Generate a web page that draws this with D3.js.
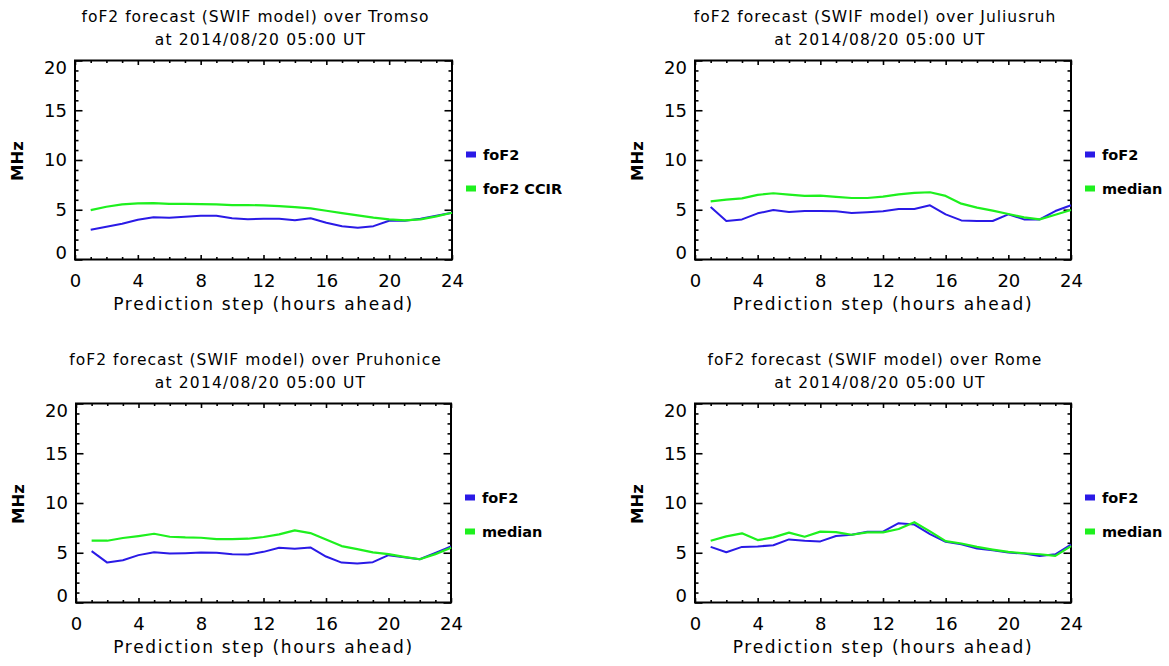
<!DOCTYPE html>
<html>
<head>
<meta charset="utf-8">
<script src="https://cdn.jsdelivr.net/npm/d3@7"></script>
<style>
  body { margin: 0; background: #fff; }
  svg { display: block; font-family: "DejaVu Sans", sans-serif; }
  .frame { fill: none; stroke: #000; stroke-width: 2; }
  .axis path { display: none; }
  .axis line { stroke: #000; stroke-width: 1.6; }
  .axis text { font-size: 18px; fill: #000; font-family: "DejaVu Sans", sans-serif; }
</style>
</head>
<body>
<svg id="chart" width="1169" height="666"></svg>
<script>
// ── Data ──────────────────────────────────────────────────────────────────
const hours = [1, 2, 3, 4, 5, 6, 7, 8, 9, 10, 11, 12, 13, 14, 15, 16, 17, 18, 19, 20, 21, 22, 23, 24];

const stations = ["Tromso", "Juliusruh", "Pruhonice", "Rome"];
const refLabels = ["foF2 CCIR", "median", "median", "median"];

const foF2Tromso = [3.0, 3.3, 3.6, 4.0, 4.25, 4.2, 4.3, 4.4, 4.4, 4.15, 4.05, 4.1, 4.1, 3.95, 4.15, 3.7, 3.35, 3.2, 3.35, 3.9, 3.9, 4.1, 4.4, 4.7];
const ccirTromso = [4.97, 5.3, 5.54, 5.64, 5.67, 5.6, 5.6, 5.57, 5.54, 5.47, 5.47, 5.44, 5.37, 5.27, 5.13, 4.9, 4.66, 4.43, 4.2, 4.03, 3.93, 4.03, 4.33, 4.7];

const foF2Juliusruh = [5.28, 3.87, 4.03, 4.64, 4.97, 4.77, 4.87, 4.87, 4.84, 4.67, 4.74, 4.84, 5.08, 5.08, 5.45, 4.54, 3.93, 3.87, 3.87, 4.54, 4.03, 4.03, 4.87, 5.45];
const medianJuliusruh = [5.85, 6.02, 6.15, 6.49, 6.66, 6.52, 6.39, 6.42, 6.29, 6.18, 6.18, 6.32, 6.55, 6.69, 6.76, 6.39, 5.61, 5.21, 4.91, 4.57, 4.24, 4.03, 4.5, 4.97];

const foF2Pruhonice = [5.16, 4.01, 4.25, 4.76, 5.06, 4.92, 4.96, 5.03, 4.99, 4.86, 4.82, 5.09, 5.5, 5.4, 5.53, 4.62, 4.01, 3.91, 4.05, 4.76, 4.55, 4.35, 4.99, 5.63];
const medianPruhonice = [6.21, 6.21, 6.48, 6.68, 6.91, 6.61, 6.54, 6.51, 6.37, 6.37, 6.41, 6.58, 6.85, 7.25, 6.98, 6.34, 5.67, 5.36, 5.03, 4.86, 4.59, 4.35, 4.86, 5.5];

const foF2Rome = [5.59, 5.05, 5.59, 5.63, 5.76, 6.34, 6.2, 6.14, 6.68, 6.81, 7.12, 7.12, 7.97, 7.83, 6.88, 6.1, 5.86, 5.42, 5.25, 5.02, 4.92, 4.68, 4.85, 5.83];
const medianRome = [6.2, 6.64, 6.95, 6.27, 6.54, 7.02, 6.61, 7.12, 7.08, 6.81, 7.05, 7.05, 7.39, 8.07, 7.15, 6.17, 5.93, 5.59, 5.32, 5.08, 4.95, 4.85, 4.68, 5.66];

const foF2Series = [foF2Tromso, foF2Juliusruh, foF2Pruhonice, foF2Rome];
const refSeries = [ccirTromso, medianJuliusruh, medianPruhonice, medianRome];

const xMajor = [0, 4, 8, 12, 16, 20, 24];
const yMajor = [0, 5, 10, 15, 20];

const BLUE = "#2a1ae6";
const GREEN = "#1ef01e";

// ── Layout ────────────────────────────────────────────────────────────────
const frames = [
  { left: 75, right: 452, top: 60.5, bottom: 259.5 },
  { left: 695, right: 1071, top: 60.5, bottom: 259.5 },
  { left: 76, right: 451, top: 403.5, bottom: 602.5 },
  { left: 695, right: 1071, top: 403.5, bottom: 602.5 },
];

const svg = d3.select("#chart");

// ── Draw one panel ────────────────────────────────────────────────────────
function drawPanel(i) {
  const f = frames[i];
  const g = svg.append("g");

  const x = d3.scaleLinear().domain([0, 24]).range([f.left, f.right]);
  const y = d3.scaleLinear().domain([0, 20]).range([f.bottom, f.top]);
  const xMinor = d3.range(0, 25).filter((v) => v % 4 !== 0);
  const yMinor = d3.range(0, 21).filter((v) => v % 5 !== 0);

  // ticks (inward, on all four sides)
  g.append("g").attr("class", "axis")
    .attr("transform", `translate(0,${f.bottom})`)
    .call(d3.axisBottom(x).tickValues(xMajor).tickSizeInner(-4.5).tickSizeOuter(0).tickPadding(15).tickFormat(d3.format("d")));
  g.append("g").attr("class", "axis")
    .attr("transform", `translate(0,${f.bottom})`)
    .call(d3.axisBottom(x).tickValues(xMinor).tickSizeInner(-2.5).tickSizeOuter(0).tickFormat(""));
  g.append("g").attr("class", "axis")
    .attr("transform", `translate(0,${f.top})`)
    .call(d3.axisTop(x).tickValues(xMajor).tickSizeInner(-4.5).tickSizeOuter(0).tickFormat(""));
  g.append("g").attr("class", "axis")
    .attr("transform", `translate(0,${f.top})`)
    .call(d3.axisTop(x).tickValues(xMinor).tickSizeInner(-2.5).tickSizeOuter(0).tickFormat(""));

  const yAx = g.append("g").attr("class", "axis")
    .attr("transform", `translate(${f.left},0)`)
    .call(d3.axisLeft(y).tickValues(yMajor).tickSizeInner(-7.5).tickSizeOuter(0).tickPadding(8).tickFormat(d3.format("d")));
  // edge labels sit a bit inside the frame, like the original
  yAx.selectAll(".tick text")
    .attr("dy", (d) => (d === 0 ? "-0.05em" : d === 20 ? "0.72em" : "0.32em"));
  g.append("g").attr("class", "axis")
    .attr("transform", `translate(${f.left},0)`)
    .call(d3.axisLeft(y).tickValues(yMinor).tickSizeInner(-3.5).tickSizeOuter(0).tickFormat(""));
  g.append("g").attr("class", "axis")
    .attr("transform", `translate(${f.right},0)`)
    .call(d3.axisRight(y).tickValues(yMajor).tickSizeInner(-7.5).tickSizeOuter(0).tickFormat(""));
  g.append("g").attr("class", "axis")
    .attr("transform", `translate(${f.right},0)`)
    .call(d3.axisRight(y).tickValues(yMinor).tickSizeInner(-3.5).tickSizeOuter(0).tickFormat(""));

  g.append("rect").attr("class", "frame")
    .attr("x", f.left).attr("y", f.top)
    .attr("width", f.right - f.left).attr("height", f.bottom - f.top);

  // lines
  const line = d3.line().x((d, k) => x(hours[k])).y((d) => y(d));
  g.append("path").datum(foF2Series[i])
    .attr("fill", "none").attr("stroke", BLUE).attr("stroke-width", 2)
    .attr("stroke-linejoin", "round").attr("d", line);
  g.append("path").datum(refSeries[i])
    .attr("fill", "none").attr("stroke", GREEN).attr("stroke-width", 2.2)
    .attr("stroke-linejoin", "round").attr("d", line);

  // titles
  const cx = (f.left + f.right) / 2;
  g.append("text").attr("x", cx - 8).attr("y", f.top - 39)
    .attr("text-anchor", "middle").attr("font-size", 15.5)
    .attr("letter-spacing", 1)
    .text(`foF2 forecast (SWIF model) over ${stations[i]}`);
  g.append("text").attr("x", cx - 3).attr("y", f.top - 16)
    .attr("text-anchor", "middle").attr("font-size", 15.5)
    .attr("letter-spacing", 1.2)
    .text("at 2014/08/20 05:00 UT");

  // axis labels
  g.append("text").attr("x", cx).attr("y", f.bottom + 50)
    .attr("text-anchor", "middle").attr("font-size", 17)
    .attr("letter-spacing", 1.7)
    .text("Prediction step (hours ahead)");
  g.append("text")
    .attr("transform", `translate(${f.left - 52},${(f.top + f.bottom) / 2 + 1}) rotate(-90)`)
    .attr("text-anchor", "middle").attr("font-size", 16.5).attr("font-weight", "bold")
    .text("MHz");

  // legend
  const legend = [
    { label: "foF2", color: BLUE, dy: 94 },
    { label: refLabels[i], color: GREEN, dy: 128 },
  ];
  legend.forEach((l) => {
    g.append("rect").attr("x", f.right + 14).attr("y", f.top + l.dy - 3)
      .attr("width", 10).attr("height", 6).attr("fill", l.color);
    g.append("text").attr("x", f.right + 31).attr("y", f.top + l.dy + 5)
      .attr("font-size", 14.5).attr("font-weight", "bold")
      .text(l.label);
  });
}

stations.forEach((s, i) => drawPanel(i));
</script>
</body>
</html>
